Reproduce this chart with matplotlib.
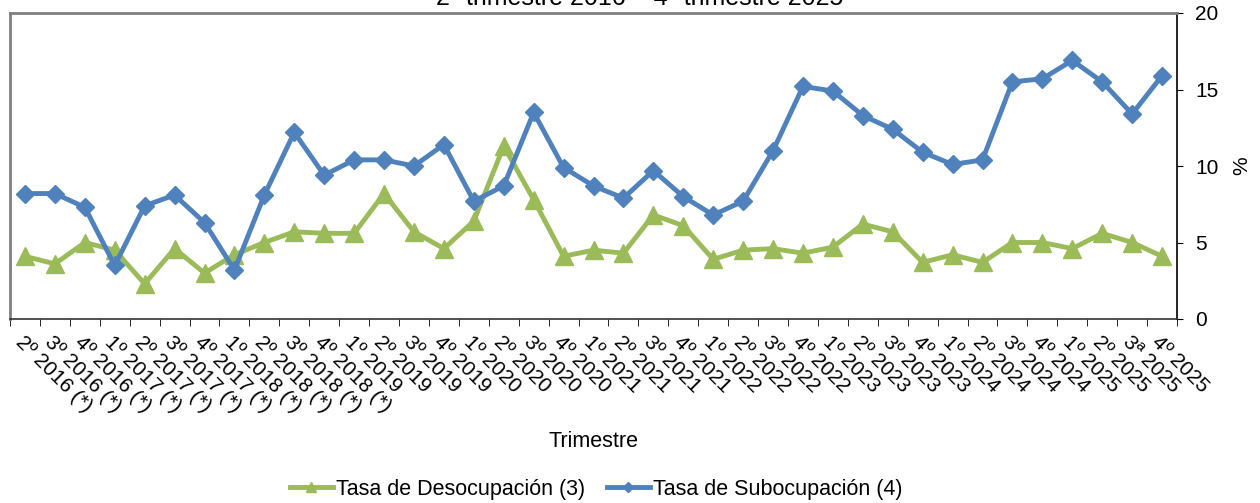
import numpy as np
import matplotlib.pyplot as plt

plt.rcParams['font.family'] = ['Liberation Sans', 'DejaVu Sans']
plt.rcParams['font.size'] = 14

trimestres = ['2º 2016 (*)', '3º 2016 (*)', '4º 2016 (*)',
              '1º 2017 (*)', '2º 2017 (*)', '3º 2017 (*)', '4º 2017 (*)',
              '1º 2018 (*)', '2º 2018 (*)', '3º 2018 (*)', '4º 2018 (*)',
              '1º 2019', '2º 2019', '3º 2019', '4º 2019',
              '1º 2020', '2º 2020', '3º 2020', '4º 2020',
              '1º 2021', '2º 2021', '3º 2021', '4º 2021',
              '1º 2022', '2º 2022', '3º 2022', '4º 2022',
              '1º 2023', '2º 2023', '3º 2023', '4º 2023',
              '1º 2024', '2º 2024', '3º 2024', '4º 2024',
              '1º 2025', '2º 2025', '3ª 2025', '4º 2025']

desocupacion = [4.1, 3.6, 5.0, 4.5, 2.3, 4.6, 3.0, 4.2, 5.0, 5.7, 5.6,
                5.6, 8.2, 5.7, 4.6, 6.4, 11.3, 7.8, 4.1, 4.5, 4.3, 6.8,
                6.1, 3.9, 4.5, 4.6, 4.3, 4.7, 6.2, 5.7, 3.7, 4.2, 3.7,
                5.0, 5.0, 4.6, 5.6, 5.0, 4.1]

subocupacion = [8.2, 8.2, 7.3, 3.5, 7.4, 8.1, 6.3, 3.2, 8.1, 12.2, 9.4,
                10.4, 10.4, 10.0, 11.4, 7.7, 8.7, 13.5, 9.9, 8.7, 7.9, 9.7,
                8.0, 6.8, 7.7, 11.0, 15.2, 14.9, 13.3, 12.4, 10.9, 10.1, 10.4,
                15.5, 15.7, 16.9, 15.5, 13.4, 15.9]

fig = plt.figure(figsize=(12.6, 5.03), dpi=100)
ax = fig.add_axes([10/1260, 1-319/503, 1167/1260, 306/503])

x = np.arange(len(trimestres))
ax.plot(x, desocupacion, color='#9BBB59', lw=3.5, marker='^', ms=13,
        label='Tasa de Desocupación (3)')
ax.plot(x, subocupacion, color='#4F81BD', lw=3.5, marker='D', ms=9.5,
        label='Tasa de Subocupación (4)')

ax.set_xlim(-0.5, len(trimestres)-0.5)
ax.set_ylim(0, 20)
ax.yaxis.tick_right()
ax.yaxis.set_label_position('right')
ax.set_yticks([0, 5, 10, 15, 20])
ax.tick_params(axis='y', direction='out', length=4, pad=9, labelsize=15)

ax.set_xticks(x)
ax.set_xticklabels(trimestres, rotation=-45, ha='left', va='top',
                   rotation_mode='anchor', fontsize=15)
ax.tick_params(axis='x', which='major', length=0, pad=10)
ax.set_xticks(np.arange(-0.5, len(trimestres), 1), minor=True)
ax.tick_params(axis='x', which='minor', direction='out', length=5)

for s in ['left', 'top']:
    ax.spines[s].set_color('#808080')
    ax.spines[s].set_linewidth(2)
ax.spines['right'].set_color('black')
ax.spines['bottom'].set_color('#333333')
ax.spines['right'].set_linewidth(1.2)
ax.spines['bottom'].set_linewidth(1.2)

ax.set_xlabel('Trimestre', fontsize=15.5)
ax.xaxis.set_label_coords(0.5, (319-431)/306)
ax.set_ylabel('%', fontsize=15)
ax.yaxis.set_label_coords((1232-10)/1167, 0.5)

# title sits mostly above the top edge, as in the source image
fig.text(640/1260, 1-5/503, '2º trimestre 2016 – 4º trimestre 2025',
         ha='center', va='baseline', fontsize=18)

fig.legend(loc='center', bbox_to_anchor=(596/1260, 1-489/503), ncol=2,
           frameon=False, fontsize=15.5, handlelength=2.0, handletextpad=0.15,
           columnspacing=1.0, markerscale=0.5)

fig.savefig('out.png', dpi=100)
